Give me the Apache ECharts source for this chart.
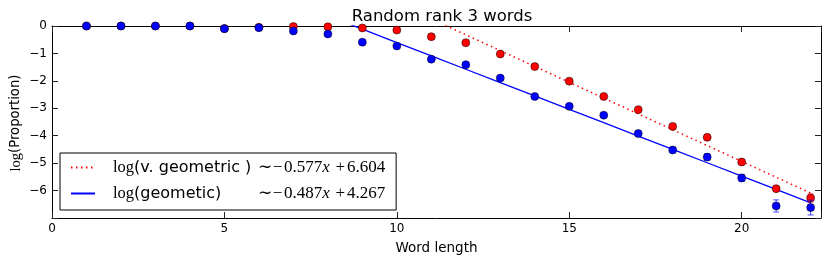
<!DOCTYPE html>
<html><head><meta charset="utf-8">
<script src="https://cdn.jsdelivr.net/npm/echarts@6/dist/echarts.min.js"></script>
<style>html,body{margin:0;padding:0;background:#fff}#c{width:830px;height:264px}</style>
</head><body><div id="c"></div>
<script>
// ---- data ----
const wordLength = [1,2,3,4,5,6,7,8,9,10,11,12,13,14,15,16,17,18,19,20,21,22];
const vGeometric = [0,0,0,0,-0.09,-0.05,-0.02,-0.03,-0.07,-0.15,-0.39,-0.61,-1.02,-1.48,-2.01,-2.57,-3.05,-3.66,-4.06,-4.96,-5.93,-6.27];
const vGeometricErr = [0,0,0,0,0,0,0,0,0,0,0,0,0,0.02,0.03,0.03,0.04,0.05,0.06,0.1,0.1,0.15];
const geometric = [0,0,0,0,-0.1,-0.06,-0.18,-0.29,-0.59,-0.73,-1.21,-1.41,-1.90,-2.57,-2.93,-3.25,-3.92,-4.52,-4.78,-5.54,-6.56,-6.62];
const geometricErr = [0,0,0,0,0,0,0,0,0,0,0,0,0.03,0.04,0.05,0.05,0.1,0.1,0.12,0.13,0.22,0.27];
const fitV = {slope: -0.577, intercept: 6.604};
const fitG = {slope: -0.487, intercept: 4.267};
const xTicks = [0,5,10,15,20];
const yTicks = [0,-1,-2,-3,-4,-5,-6];
const titleText = 'Random rank 3 words';
const xLabel = 'Word length';

// ---- build ----
const SANS = 'DejaVu Sans';
const SERIF = 'Liberation Serif';
const RED = '#ff0000', BLUE = '#0000ff';
const pts = (ys) => wordLength.map((x,i)=>[x, ys[i]]);
const fitPts = (f) => wordLength.map(x=>[x, f.slope*x + f.intercept]);
const errPts = (ys, es) => wordLength.map((x,i)=>[x, ys[i]-es[i], ys[i]+es[i]]).filter((d,i)=>es[i]>0);
const minusFmt = v => v < 0 ? '\u2212' + Math.abs(v) : String(v);
const fitLabel = f => {
  const s = Math.abs(f.slope).toFixed(3), b = Math.abs(f.intercept).toFixed(3);
  return '{op|\u223C}{op|' + (f.slope < 0 ? '\u2212' : '') + '}{m|' + s + '}{i|x}{sp|}{op|' + (f.intercept < 0 ? '\u2212' : '+') + '}{m|' + b + '}';
};

function errRender(color){
  return function(params, api){
    const x = api.value(0);
    const lo = api.coord([x, api.value(1)]);
    const hi = api.coord([x, api.value(2)]);
    const cw = 3;
    const st = {stroke: color, lineWidth: 1, opacity: 0.7};
    return {type:'group', children:[
      {type:'line', shape:{x1:lo[0],y1:lo[1],x2:hi[0],y2:hi[1]}, style:st},
      {type:'line', shape:{x1:lo[0]-cw,y1:lo[1],x2:lo[0]+cw,y2:lo[1]}, style:st},
      {type:'line', shape:{x1:hi[0]-cw,y1:hi[1],x2:hi[0]+cw,y2:hi[1]}, style:st}
    ]};
  };
}

const LH = 20;
const richLegend = {
  pad: {width: 13, lineHeight: LH},
  s: {fontFamily: SERIF, fontSize: 16.5, color: '#000', lineHeight: LH},
  t: {fontFamily: SANS, fontSize: 16, color: '#000', width: 124, lineHeight: LH},
  op: {fontFamily: SERIF, fontSize: 17, color: '#000', width: 13, align: 'center', lineHeight: LH},
  m: {fontFamily: SERIF, fontSize: 17, color: '#000', lineHeight: LH},
  sp: {width: 4, lineHeight: LH},
  i: {fontFamily: SERIF, fontStyle: 'italic', fontSize: 17, color: '#000', lineHeight: LH}
};
const legendTexts = {
  'vfit': '{pad|}{s|log}{t|(v. geometric )}' + fitLabel(fitV),
  'gfit': '{pad|}{s|log}{t|(geometic)}' + fitLabel(fitG)
};

const chart = echarts.init(document.getElementById('c'), null, {renderer:'canvas'});
const axisCommon = {
  axisLine: {show: true, onZero: false, lineStyle: {color: '#000', width: 1}},
  axisTick: {show: true, inside: true, length: 6, lineStyle: {color: '#222', width: 1}},
  splitLine: {show: false}
};
const hiddenSym = {color: 'rgba(0,0,0,0)', borderWidth: 0, opacity: 0};
chart.setOption({
  animation: false,
  backgroundColor: '#fff',
  title: {text: titleText, left: 437, textAlign: 'center', top: 3,
    textStyle: {fontFamily: SANS, fontSize: 16.5, fontWeight: 'normal', color: '#000'}},
  grid: {left: 52, right: 9, top: 26, bottom: 46, containLabel: false},
  legend: {
    left: 60, top: 153, orient: 'vertical', itemWidth: 24, itemHeight: 14, itemGap: 9,
    padding: [6, 11, 8, 10], borderColor: '#000', borderWidth: 1, backgroundColor: '#fff',
    data: [{name: 'vfit', itemStyle: hiddenSym}, {name: 'gfit', itemStyle: hiddenSym}],
    itemStyle: hiddenSym,
    formatter: n => legendTexts[n],
    textStyle: {rich: richLegend}
  },
  xAxis: [
    Object.assign({type: 'value', min: 0, max: 22.3, interval: 5, position: 'bottom',
      name: xLabel, nameLocation: 'middle', nameGap: 23,
      nameTextStyle: {fontFamily: SANS, fontSize: 13.5, color: '#000'},
      axisLabel: {fontFamily: SANS, fontSize: 12, color: '#000', margin: 5,
        formatter: v => xTicks.includes(v) ? minusFmt(v) : ''}}, axisCommon),
    Object.assign({type: 'value', min: 0, max: 22.3, interval: 5, position: 'top',
      axisLabel: {show: false}}, axisCommon)
  ],
  yAxis: [
    Object.assign({type: 'value', min: -7, max: 0, interval: 1, position: 'left',
      axisLabel: {fontFamily: SANS, fontSize: 12, color: '#000', margin: 5,
        formatter: v => yTicks.includes(v) ? minusFmt(v) : ''}}, axisCommon),
    Object.assign({type: 'value', min: -7, max: 0, interval: 1, position: 'right',
      axisLabel: {show: false}}, axisCommon)
  ],
  graphic: [{
    type: 'text', x: 16, y: 123, rotation: Math.PI/2,
    style: {text: '{s|log}{t|(Proportion)}', align: 'center', verticalAlign: 'middle',
      rich: {s: {fontFamily: SERIF, fontSize: 14.5, fill: '#000'}, t: {fontFamily: SANS, fontSize: 13.2, fill: '#000'}}}
  }],
  series: [
    {name: 'vfit', type: 'line', data: fitPts(fitV), showSymbol: false, symbol: 'none', clip: true,
      color: RED, lineStyle: {color: RED, width: 1.5, type: [1.5, 3.5]}, z: 2},
    {name: 'gfit', type: 'line', data: fitPts(fitG), showSymbol: false, symbol: 'none', clip: true,
      color: BLUE, lineStyle: {color: BLUE, width: 1.3}, z: 2},
    {name: 'vErr', type: 'custom', data: errPts(vGeometric, vGeometricErr), renderItem: errRender(RED),
      encode: {x: 0, y: [1, 2]}, z: 3},
    {name: 'vPts', type: 'scatter', data: pts(vGeometric), symbol: 'circle', symbolSize: 8,
      itemStyle: {color: RED, borderColor: '#000', borderWidth: 0.5, opacity: 1}, z: 4},
    {name: 'gErr', type: 'custom', data: errPts(geometric, geometricErr), renderItem: errRender(BLUE),
      encode: {x: 0, y: [1, 2]}, z: 5},
    {name: 'gPts', type: 'scatter', data: pts(geometric), symbol: 'circle', symbolSize: 8,
      itemStyle: {color: BLUE, borderColor: '#000', borderWidth: 0.5, opacity: 1}, z: 6}
  ]
});
</script></body></html>
